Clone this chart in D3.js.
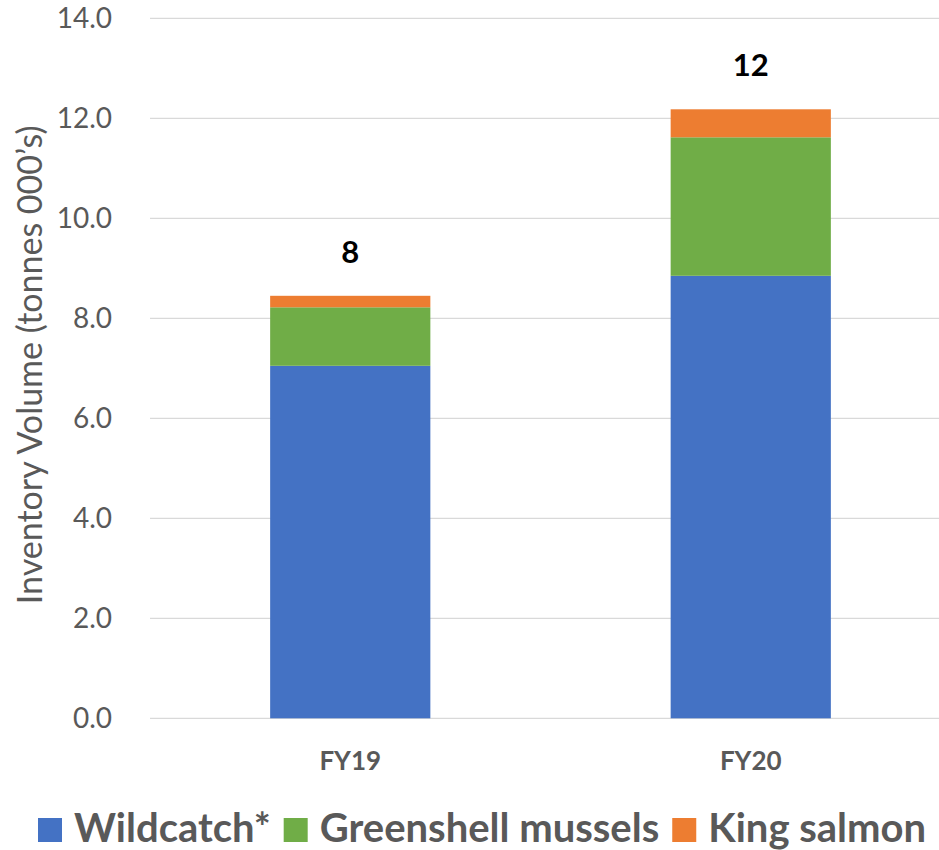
<!DOCTYPE html>
<html>
<head>
<meta charset="utf-8">
<script src="https://cdn.jsdelivr.net/npm/d3@7"></script>
<style>
  html, body { margin: 0; padding: 0; background: #fff; }
  svg { display: block; font-family: Lato, "Open Sans", sans-serif; }
</style>
</head>
<body>
<svg id="chart" width="939" height="850"></svg>
<script>
// Inventory volume by year, tonnes (000's)
const years = ["FY19", "FY20"];
const seriesNames = ["Wildcatch*", "Greenshell mussels", "King salmon"];
const wildcatch = [7.05, 8.85];
const greenshell = [1.17, 2.77];
const kingSalmon = [0.23, 0.56];
const yTicks = [0, 2, 4, 6, 8, 10, 12, 14];
const colors = ["#4472C4", "#70AD47", "#ED7D31"];

const rows = years.map((y, i) => ({
  year: y,
  "Wildcatch*": wildcatch[i],
  "Greenshell mussels": greenshell[i],
  "King salmon": kingSalmon[i]
}));

const svg = d3.select("#chart");
const W = 939, H = 850;
const plot = { left: 150, right: 951, top: 18.3, bottom: 718.3 };

const x = d3.scaleBand().domain(years).range([plot.left, plot.right])
  .paddingInner(0.6).paddingOuter(0.3);
const y = d3.scaleLinear().domain([0, 14]).range([plot.bottom, plot.top]);
const color = d3.scaleOrdinal().domain(seriesNames).range(colors);

// gridlines
svg.append("g").selectAll("line").data(yTicks).join("line")
  .attr("x1", plot.left).attr("x2", W)
  .attr("y1", d => y(d)).attr("y2", d => y(d))
  .attr("stroke", "#D9D9D9").attr("stroke-width", 1.3);

// y axis labels
const yAxis = d3.axisLeft(y).tickValues(yTicks).tickFormat(d3.format(".1f")).tickSize(0).tickPadding(0);
const gy = svg.append("g").attr("transform", `translate(112,0)`).call(yAxis);
gy.select(".domain").remove();
gy.selectAll("text").attr("font-size", 28).attr("fill", "#595959")
  .attr("font-family", "Lato, 'Open Sans', sans-serif");

// y axis title
svg.append("text")
  .attr("transform", `translate(42,${y(7.07)}) rotate(-90)`)
  .attr("text-anchor", "middle")
  .attr("font-size", 34).attr("fill", "#595959")
  .text("Inventory Volume (tonnes 000\u2019s)");

// stacked bars
const stacked = d3.stack().keys(seriesNames)(rows);
svg.append("g").selectAll("g").data(stacked).join("g")
  .attr("fill", d => color(d.key))
  .selectAll("rect").data(d => d).join("rect")
  .attr("x", d => x(d.data.year))
  .attr("width", x.bandwidth())
  .attr("y", d => y(d[1]))
  .attr("height", d => y(d[0]) - y(d[1]));

// totals above bars
const totals = rows.map(r => ({ year: r.year, total: d3.sum(seriesNames, k => r[k]) }));
svg.append("g").selectAll("text").data(totals).join("text")
  .attr("x", d => x(d.year) + x.bandwidth() / 2)
  .attr("y", d => y(d.total) - 33)
  .attr("text-anchor", "middle")
  .attr("font-size", 31).attr("font-weight", "bold").attr("fill", "#000")
  .text(d => d3.format(".0f")(d.total));

// x axis labels
const xAxis = d3.axisBottom(x).tickSize(0).tickPadding(0);
const gx = svg.append("g").attr("transform", `translate(0,${plot.bottom + 52})`).call(xAxis);
gx.select(".domain").remove();
gx.selectAll("text").attr("dy", 0).attr("font-size", 26).attr("font-weight", "bold")
  .attr("fill", "#595959").attr("font-family", "Lato, 'Open Sans', sans-serif");

// legend
const legend = svg.append("g").attr("transform", "translate(0,842)");
let cx = 38;
seriesNames.forEach((name, i) => {
  legend.append("rect").attr("x", cx).attr("y", -24).attr("width", 24).attr("height", 24)
    .attr("fill", color(name));
  const t = legend.append("text").attr("x", cx + 36).attr("y", 0)
    .attr("font-size", 40).attr("font-weight", "bold").attr("fill", "#595959")
    .text(name);
  cx += 36 + t.node().getComputedTextLength() + 13;
});
</script>
</body>
</html>
